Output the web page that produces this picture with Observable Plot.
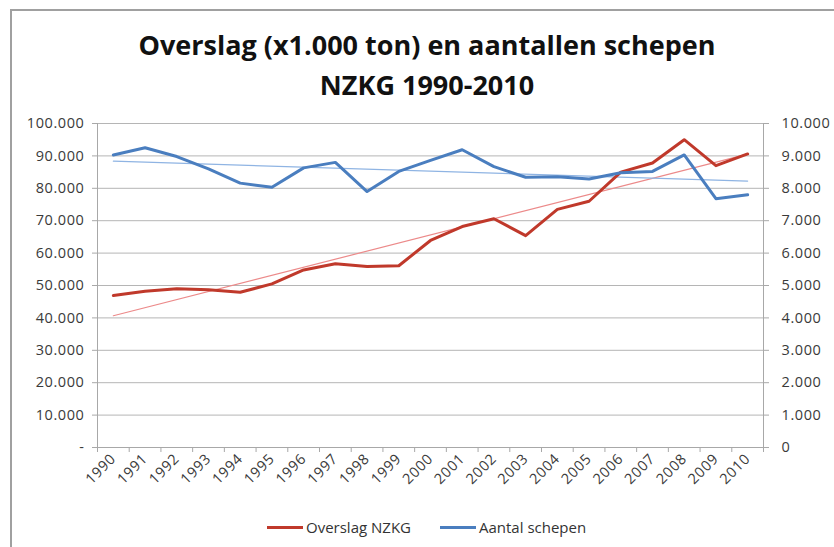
<!DOCTYPE html>
<html>
<head>
<meta charset="utf-8">
<script src="https://cdn.jsdelivr.net/npm/d3@7"></script>
<script src="https://cdn.jsdelivr.net/npm/@observablehq/plot@0.6"></script>
<style>
  html, body { margin: 0; padding: 0; background: #fff; width: 834px; height: 547px; overflow: hidden; }
  body { font-family: "Open Sans", Lato, sans-serif; color: #222; position: relative; }
  #frame { position: absolute; left: 10px; top: 9px; width: 840px; height: 560px; border: 2px solid #a0a0a0; box-sizing: border-box; }
  #title { position: absolute; left: 0; top: 25px; width: 854px; text-align: center; font-weight: bold; font-size: 27px; line-height: 40px; color: #111; }
  #chart { position: absolute; left: 0; top: 100px; }
  #legend { position: absolute; top: 515px; left: 0; width: 834px; font-size: 15px; color: #333; }
  .item { position: absolute; top: 0; display: flex; align-items: center; height: 24px; }
  .sw { display: inline-block; width: 36px; height: 3px; margin-right: 3px; }
</style>
</head>
<body>
<div id="frame"></div>
<div id="title">Overslag (x1.000 ton) en aantallen schepen<br>NZKG 1990-2010</div>
<div id="chart"></div>
<div id="legend">
  <div class="item" style="left:267px"><span class="sw" style="background:#c0392b"></span><span>Overslag NZKG</span></div>
  <div class="item" style="left:440px"><span class="sw" style="background:#4a7ebf"></span><span>Aantal schepen</span></div>
</div>
<script>
const years = [1990,1991,1992,1993,1994,1995,1996,1997,1998,1999,2000,2001,2002,2003,2004,2005,2006,2007,2008,2009,2010];
const overslag = [46900,48200,49000,48700,47900,50500,54800,56700,55900,56100,63900,68200,70600,65400,73500,76000,85000,87800,95000,87000,90600];
const schepen = [9030,9250,8980,8600,8160,8030,8630,8800,7900,8520,8860,9190,8670,8340,8360,8290,8480,8520,9030,7680,7800];
const leftTicks = [0,10000,20000,30000,40000,50000,60000,70000,80000,90000,100000];

const data = years.map((y, i) => ({year: y, overslag: overslag[i], schepen: schepen[i]}));
const nl = d3.formatLocale({decimal: ",", thousands: ".", grouping: [3], currency: ["€", ""]});
const fmt = nl.format(",");
const RED = "#c0392b", BLUE = "#4a7ebf";
const axisColor = "#a8a8a8";

const chart = Plot.plot({
  width: 834,
  height: 400,
  marginLeft: 97,
  marginRight: 71,
  marginTop: 23,
  marginBottom: 53,
  style: {fontFamily: "'Open Sans', Lato, sans-serif", fontSize: "14.5px", color: "#3a3a3a", background: "transparent", letterSpacing: "0.6px"},
  x: {domain: [1989.5, 2010.5]},
  y: {domain: [0, 100000]},
  marks: [
    Plot.gridY(leftTicks, {stroke: "#b5b5b5", strokeOpacity: 1}),
    Plot.ruleX([1989.5, 2010.5], {stroke: axisColor}),
    Plot.ruleY([0], {stroke: axisColor}),
    Plot.axisY(leftTicks, {anchor: "left", tickSize: 5, tickPadding: 8, stroke: axisColor, fill: "#3a3a3a", tickFormat: d => d === 0 ? "-" : fmt(d), label: null}),
    Plot.axisY(leftTicks, {anchor: "right", tickSize: 5, tickPadding: 13, stroke: axisColor, fill: "#3a3a3a", tickFormat: d => fmt(d / 10), textAnchor: "start", label: null}),
    Plot.axisX(d3.range(1989.5, 2011, 1), {tickSize: 5, stroke: axisColor, tickFormat: () => "", label: null}),
    Plot.axisX(years, {tickSize: 0, tickRotate: -45, tickPadding: 9, fill: "#3a3a3a", tickFormat: d => String(d), label: null}),
    Plot.linearRegressionY(data, {x: "year", y: "overslag", stroke: "#ec8a8a", strokeWidth: 1.2, ci: 0}),
    Plot.linearRegressionY(data, {x: "year", y: d => d.schepen * 10, stroke: "#8fb4e3", strokeWidth: 1.2, ci: 0}),
    Plot.line(data, {x: "year", y: "overslag", stroke: RED, strokeWidth: 3}),
    Plot.line(data, {x: "year", y: d => d.schepen * 10, stroke: BLUE, strokeWidth: 3})
  ]
});
document.getElementById("chart").appendChild(chart);
</script>
</body>
</html>
